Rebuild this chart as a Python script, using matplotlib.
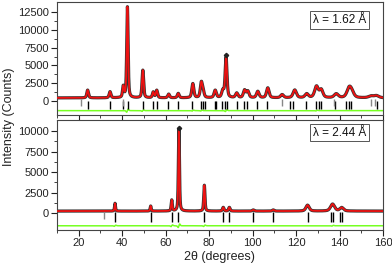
import numpy as np
import matplotlib
matplotlib.use("Agg")
import matplotlib.pyplot as plt

plt.rcParams['font.family'] = ['Liberation Sans', 'DejaVu Sans']

# ---- data: lambda = 1.62 A (top panel) ----
top_bg = 400
top_pos = [24.1, 34.4, 40.5, 42.4, 49.5, 54.3, 55.9, 61.4, 65.8, 72.5, 76.4, 77.2,
           82.8, 86.3, 87.8, 92.7, 96.3, 97.8, 102.4, 107.0, 113.6, 119.4, 124.9,
           129.4, 131.6, 138.5, 144.4, 145.6, 154.5, 157.0]
top_hgt = [1100, 870, 1550, 12850, 3900, 800, 1050, 520, 620, 2000, 2050, 900,
           1050, 950, 5700, 650, 1050, 900, 900, 1400, 450, 1100, 550,
           1600, 1100, 550, 1250, 700, 250, 300]
top_wid = [0.9, 0.9, 0.8, 0.75, 0.85, 0.9, 0.9, 1.0, 1.0, 1.1, 1.1, 1.1,
           1.2, 1.2, 1.0, 1.3, 1.3, 1.3, 1.4, 1.4, 1.6, 1.8, 1.8,
           2.0, 1.8, 2.2, 2.4, 2.4, 2.6, 2.6]
top_ticks_black = [24.4, 34.4, 40.5, 42.5, 49.7, 54.3, 55.9, 61.2, 65.8, 72.3, 76.1,
                   77.0, 78.1, 82.7, 83.2, 86.1, 87.3, 88.4, 92.7, 96.2, 97.6, 102.2,
                   106.5, 117.2, 118.8, 124.7, 129.3, 130.4, 131.6, 138.1, 143.1,
                   144.2, 145.4, 157.3]
top_ticks_gray = [21.0, 40.2, 113.7, 137.6, 154.4, 156.2]
top_diff = -1400
top_diff_pos = [42.4, 49.5, 87.8, 72.5, 76.4, 129.4]
top_diff_amp = [250, 120, 150, 80, 80, 60]
top_obs_max = (87.8, 6500)

# ---- data: lambda = 2.44 A (bottom panel) ----
bot_bg = 240
bot_pos = [36.7, 53.1, 62.8, 66.1, 77.8, 86.5, 89.3, 100.3, 109.5, 125.3, 136.8,
           141.0]
bot_hgt = [950, 620, 1330, 10000, 3150, 450, 450, 140, 140, 720, 850, 420]
bot_wid = [0.5, 0.55, 0.6, 0.6, 0.65, 0.8, 0.8, 1.0, 1.0, 1.8, 2.2, 2.0]
bot_ticks_black = [36.7, 53.1, 62.8, 65.8, 77.8, 86.5, 89.3, 100.3, 109.5, 125.3,
                   136.1, 137.2, 140.2, 141.3]
bot_ticks_gray = [31.8]
bot_diff = -1550
bot_diff_pos = [36.7, 62.8, 66.1, 77.8, 136.8]
bot_diff_amp = [80, 120, 250, 100, 60]
bot_obs_max = (66.1, 10400)

xlabels = [20, 40, 60, 80, 100, 120, 140, 160]

x = np.linspace(10, 160, 3001)


def profile(bg, pos, hgt, wid):
    y = np.full_like(x, float(bg))
    for p, h, w in zip(pos, hgt, wid):
        g = np.exp(-4 * np.log(2) * ((x - p) / w) ** 2)
        l = 1.0 / (1 + 4 * ((x - p) / w) ** 2)
        y += h * (0.5 * g + 0.5 * l)
    return y


def diffcurve(level, pos, amp):
    y = np.full_like(x, float(level))
    for p, a in zip(pos, amp):
        d = (x - p) / 0.5
        y += a * d * np.exp(-d ** 2) * 2
    return y


fig = plt.figure(figsize=(3.92, 2.65), dpi=100)
ax1 = fig.add_axes([0.1454, 0.566, 0.8316, 0.4265])
ax2 = fig.add_axes([0.1454, 0.132, 0.8316, 0.415])

panels = [
    (ax1, top_bg, top_pos, top_hgt, top_wid, top_ticks_black, top_ticks_gray,
     top_diff, top_diff_pos, top_diff_amp, (-2020, 13960), [0, 2500, 5000, 7500, 10000, 12500],
     "λ = 1.62 Å", 0.84, (-100, -1100), (300, -800), top_obs_max),
    (ax2, bot_bg, bot_pos, bot_hgt, bot_wid, bot_ticks_black, bot_ticks_gray,
     bot_diff, bot_diff_pos, bot_diff_amp, (-2070, 11340), [0, 2500, 5000, 7500, 10000],
     "λ = 2.44 Å", 0.885, (100, -1100), (300, -700), bot_obs_max),
]

for (ax, bg, pos, hgt, wid, tb, tg, dl, dp, da, ylim, yt, lab, ly, tbr, tgr, om) in panels:
    y = profile(bg, pos, hgt, wid)
    ax.plot(x, y, color='#333333', lw=2.3, zorder=2)
    ax.plot(x, y, color='#ee1111', lw=1.3, zorder=3)
    ax.plot([om[0]], [om[1]], marker='D', ms=2.2, color='#222222', zorder=4)
    ax.plot(x, diffcurve(dl, dp, da), color='#77ff22', lw=1.1, zorder=2)
    ax.vlines(tb, tbr[1], tbr[0], color='black', lw=1.0, zorder=2)
    ax.vlines(tg, tgr[1], tgr[0], color='#888888', lw=1.0, zorder=2)
    ax.set_xlim(10, 160)
    ax.set_ylim(*ylim)
    ax.set_yticks(yt)
    ax.set_yticks(np.arange(0, yt[-1] + 1, 1250), minor=True)
    ax.set_xticks(xlabels)
    ax.set_xticks(np.arange(10, 161, 10), minor=True)
    ax.tick_params(axis='both', which='major', direction='out', length=4, width=0.8,
                   labelsize=8, colors='#222222', pad=2)
    ax.tick_params(axis='both', which='minor', direction='out', length=2, width=0.6,
                   colors='#222222')
    for s in ax.spines.values():
        s.set_color('#444444')
        s.set_linewidth(0.8)
    ax.text(0.867, ly, lab, transform=ax.transAxes, ha='center', va='center',
            fontsize=8.5, color='#111111',
            bbox=dict(boxstyle='square,pad=0.22', fc='white', ec='#555555', lw=0.7))

ax1.tick_params(axis='x', labelbottom=False)
fig.text(0.022, 0.56, "Intensity (Counts)", rotation=90, ha='center', va='center',
         fontsize=9, color='#222222')
fig.text(0.56, 0.03, "2θ (degrees)", ha='center', va='center', fontsize=9,
         color='#222222')

fig.savefig("out.png", dpi=100)
